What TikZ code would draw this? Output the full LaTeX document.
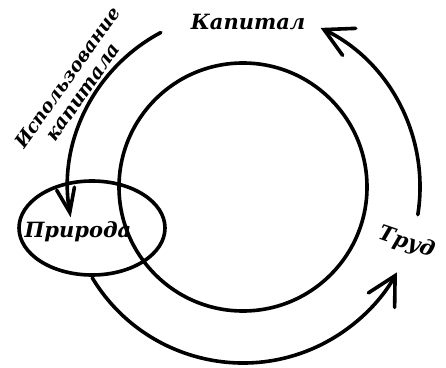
\documentclass[tikz,border=0pt]{standalone}
\usepackage{fontspec}
\setmainfont{DejaVu Serif}
\usetikzlibrary{arrows.meta,shapes.geometric}
\newcommand\lblfont{\fontsize{21}{24}\selectfont\bfseries\itshape}
\newcommand\arcfontA{\fontsize{18.5}{20}\selectfont\bfseries\itshape}
\newcommand\arcfontB{\fontsize{19.5}{22}\selectfont\bfseries\itshape}
\begin{document}
\begin{tikzpicture}[x=1pt,y=1pt,
  stroke/.style={line width=3.6pt, line cap=round},
  flow/.style={stroke, -{Straight Barb[length=28pt,width=30pt,line cap=round]}},
  flowsmall/.style={stroke, -{Straight Barb[length=24pt,width=18pt,line cap=round]}},
  lbl/.style={font=\lblfont, inner sep=0pt}]
\useasboundingbox (0,0) rectangle (446,367);
\coordinate (c) at (243,180);
\node[circle, draw, stroke, minimum size=248pt, inner sep=0pt] (ring) at (c) {};
\node[ellipse, draw, stroke, minimum width=146pt, minimum height=94pt, inner sep=0pt] (nat) at (92,139) {};
% arcs
\draw[flowsmall] ([shift={(118:175)}]c) arc[start angle=118, end angle=190, radius=175];
\draw[flow] ([shift={(-9:177)}]c) arc[start angle=-9, end angle=64, radius=177];
\draw[flow] ([shift={(211:176)}]c) arc[start angle=211, end angle=331, radius=176];
% labels
\node[lbl] (kap) at (248,345) {Капитал};
\node[lbl] (pri) at (78,135) {Природа};
\node[lbl, rotate=-19] (trud) at (407,124) {Труд};
\node[inner sep=0pt, font=\arcfontA, anchor=base, rotate=54.4] (use) at (72.8,285.6) {Использование};
\node[inner sep=0pt, font=\arcfontB, anchor=base, rotate=55.2] (capl) at (88,271.3) {капитала};
\end{tikzpicture}
\end{document}
